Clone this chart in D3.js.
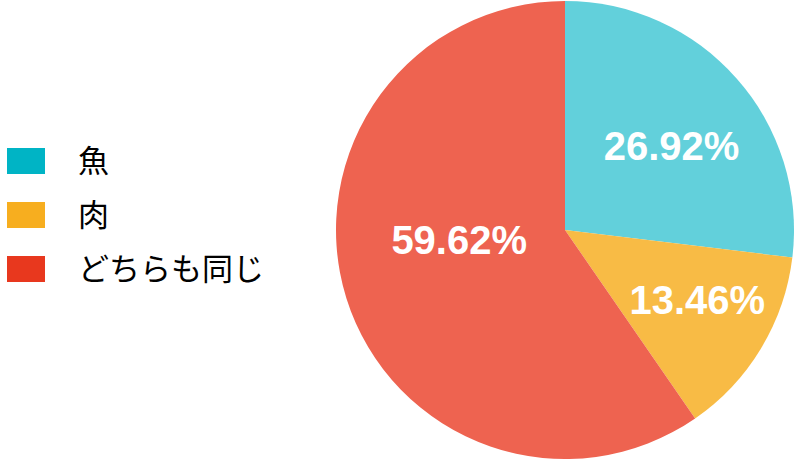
<!DOCTYPE html>
<html>
<head>
<meta charset="utf-8">
<script src="https://cdn.jsdelivr.net/npm/d3@7"></script>
<style>
  html, body { margin: 0; padding: 0; background: #fff; }
  svg { display: block; }
</style>
</head>
<body>
<div id="chart"></div>
<script>
var categories = ["魚", "肉", "どちらも同じ"];
var values = [26.92, 13.46, 59.62];
var legendColors = ["#00b4c5", "#f7ae1f", "#e8381e"];
var sliceColors = ["#62d0db", "#f8bb45", "#ee6350"];

var width = 801, height = 462;
var cx = 565, cy = 230, radius = 229;

var svg = d3.select("#chart").append("svg")
    .attr("width", width)
    .attr("height", height);

var data = categories.map(function(c, i) {
    return {name: c, value: values[i], i: i};
});

// Pie
var pie = d3.pie().sort(null).value(function(d) { return d.value; });
var arcs = pie(data);
var arc = d3.arc().innerRadius(0).outerRadius(radius);
var labelArc = d3.arc().innerRadius(137).outerRadius(137);
// small nudges so labels sit where the original put them
var labelNudge = [[4, 6], [15, -1], [25, -31]];

var g = svg.append("g")
    .attr("transform", "translate(" + cx + "," + cy + ")");

g.selectAll("path.slice").data(arcs).enter().append("path")
    .attr("class", "slice")
    .attr("d", arc)
    .style("fill", function(d) { return sliceColors[d.data.i]; });

g.selectAll("text.pct").data(arcs).enter().append("text")
    .attr("class", "pct")
    .attr("x", function(d) { return labelArc.centroid(d)[0] + labelNudge[d.data.i][0]; })
    .attr("y", function(d) { return labelArc.centroid(d)[1] + labelNudge[d.data.i][1]; })
    .attr("dy", "0.36em")
    .attr("text-anchor", "middle")
    .style("fill", "#fff")
    .style("font-family", "'Liberation Sans', Arial, sans-serif")
    .style("font-weight", "bold")
    .style("font-size", "40px")
    .text(function(d) { return d.data.value.toFixed(2) + "%"; });

// Legend
var legend = svg.append("g").attr("transform", "translate(7,148)");
var item = legend.selectAll("g").data(data).enter().append("g")
    .attr("transform", function(d, i) { return "translate(0," + (i * 54) + ")"; });
item.append("rect")
    .attr("width", 38)
    .attr("height", 26)
    .style("fill", function(d) { return legendColors[d.i]; });
item.append("text")
    .attr("x", 71)
    .attr("y", 13)
    .attr("dy", "0.36em")
    .style("font-family", "'Noto Sans CJK JP', sans-serif")
    .style("font-size", "31px")
    .style("fill", "#000")
    .text(function(d) { return d.name; });
</script>
</body>
</html>
